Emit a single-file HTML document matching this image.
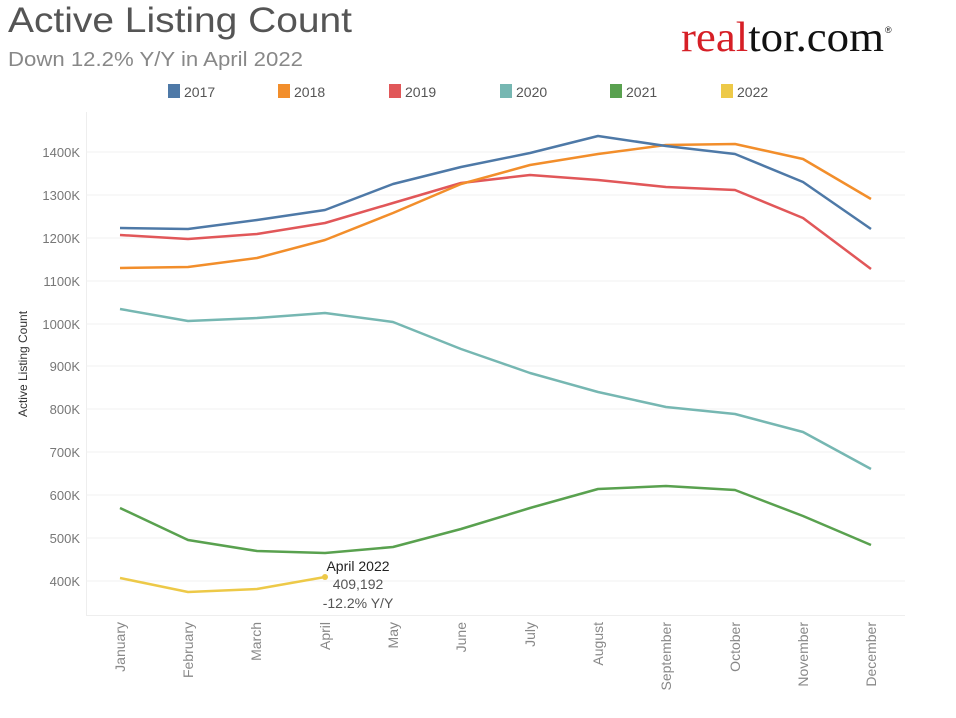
<!DOCTYPE html><html><head><style>body{margin:0;background:#fff;width:956px;height:713px;overflow:hidden;font-family:"Liberation Sans",sans-serif}</style></head><body>
<svg width="956" height="713" xmlns="http://www.w3.org/2000/svg" font-family="Liberation Sans, sans-serif">
<text x="8" y="32" font-size="35" fill="#555" textLength="344" lengthAdjust="spacingAndGlyphs">Active Listing Count</text>
<text x="8" y="66" font-size="20" fill="#888" textLength="295" lengthAdjust="spacingAndGlyphs">Down 12.2% Y/Y in April 2022</text>
<text x="681" y="51" font-size="42" font-family="Liberation Serif, serif" textLength="203" lengthAdjust="spacingAndGlyphs"><tspan fill="#d61f26">real</tspan><tspan fill="#111">tor.com</tspan></text>
<text x="885" y="33" font-size="9" fill="#111">®</text>
<g font-size="14" fill="#555">
<rect x="168" y="84" width="12" height="14" fill="#4e79a7"/><text x="184" y="97">2017</text>
<rect x="278" y="84" width="12" height="14" fill="#f28e2b"/><text x="294" y="97">2018</text>
<rect x="389" y="84" width="12" height="14" fill="#e15759"/><text x="405" y="97">2019</text>
<rect x="500" y="84" width="12" height="14" fill="#76b7b2"/><text x="516" y="97">2020</text>
<rect x="610" y="84" width="12" height="14" fill="#59a14f"/><text x="626" y="97">2021</text>
<rect x="721" y="84" width="12" height="14" fill="#edc948"/><text x="737" y="97">2022</text>
</g>
<line x1="86.5" y1="112" x2="86.5" y2="615" stroke="#eee"/>
<line x1="86" y1="615.5" x2="905" y2="615.5" stroke="#eee"/>
<g stroke="#f0f0f0">
<line x1="86" x2="905" y1="152" y2="152"/><line x1="86" x2="905" y1="195" y2="195"/><line x1="86" x2="905" y1="238" y2="238"/><line x1="86" x2="905" y1="281" y2="281"/><line x1="86" x2="905" y1="324" y2="324"/><line x1="86" x2="905" y1="366" y2="366"/><line x1="86" x2="905" y1="409" y2="409"/><line x1="86" x2="905" y1="452" y2="452"/><line x1="86" x2="905" y1="495" y2="495"/><line x1="86" x2="905" y1="538" y2="538"/><line x1="86" x2="905" y1="581" y2="581"/>
</g>
<g font-size="13" fill="#777" text-anchor="end">
<text x="80" y="157">1400K</text><text x="80" y="200">1300K</text><text x="80" y="243">1200K</text><text x="80" y="286">1100K</text><text x="80" y="329">1000K</text><text x="80" y="371">900K</text><text x="80" y="414">800K</text><text x="80" y="457">700K</text><text x="80" y="500">600K</text><text x="80" y="543">500K</text><text x="80" y="586">400K</text>
</g>
<text transform="translate(27,364) rotate(-90)" font-size="12" fill="#333" text-anchor="middle">Active Listing Count</text>
<g font-size="14" fill="#888" text-anchor="end">
<text transform="translate(125,622) rotate(-90)">January</text>
<text transform="translate(193,622) rotate(-90)">February</text>
<text transform="translate(261,622) rotate(-90)">March</text>
<text transform="translate(330,622) rotate(-90)">April</text>
<text transform="translate(398,622) rotate(-90)">May</text>
<text transform="translate(466,622) rotate(-90)">June</text>
<text transform="translate(535,622) rotate(-90)">July</text>
<text transform="translate(603,622) rotate(-90)">August</text>
<text transform="translate(671,622) rotate(-90)">September</text>
<text transform="translate(740,622) rotate(-90)">October</text>
<text transform="translate(808,622) rotate(-90)">November</text>
<text transform="translate(876,622) rotate(-90)">December</text>
</g>
<g fill="none" stroke-width="2.5" stroke-linejoin="round">
<polyline stroke="#e15759" points="120,235 188,239 257,234 325,223 393,203 461,183 530,175 598,180 666,187 735,190 803,218 871,269"/>
<polyline stroke="#f28e2b" points="120,268 188,267 257,258 325,240 393,213 461,184 530,165 598,154 666,145 735,144 803,159 871,199"/>
<polyline stroke="#4e79a7" points="120,228 188,229 257,220 325,210 393,184 461,167 530,153 598,136 666,146 735,154 803,182 871,229"/>
<polyline stroke="#76b7b2" points="120,309 188,321 257,318 325,313 393,322 461,349 530,373 598,392 666,407 735,414 803,432 871,469"/>
<polyline stroke="#59a14f" points="120,508 188,540 257,551 325,553 393,547 461,529 530,508 598,489 666,486 735,490 803,516 871,545"/>
<polyline stroke="#edc948" points="120,578 188,592 257,589 325,577"/>
</g>
<circle cx="325" cy="577" r="3" fill="#edc948"/>
<g font-size="14" text-anchor="middle">
<text x="358" y="571" fill="#222">April 2022</text>
<text x="358" y="589" fill="#555">409,192</text>
<text x="358" y="608" fill="#555">-12.2% Y/Y</text>
</g>
</svg></body></html>
